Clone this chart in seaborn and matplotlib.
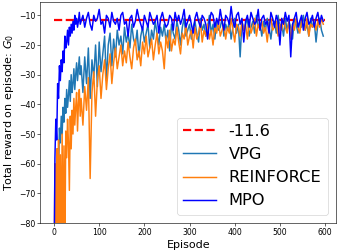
import numpy as np
import matplotlib
matplotlib.use("Agg")
import matplotlib.pyplot as plt
import seaborn as sns

# Episodios: cada 2 al principio, luego cada 4
episodes = np.concatenate([np.arange(0, 60, 2), np.arange(60, 600, 4)])

# Recompensa total por episodio
mpo = [
    # 0-58
    -100, -58, -45, -52, -33, -38, -27, -32, -25, -29,
    -22, -26, -17, -21, -19, -15, -20, -14, -17, -13,
    -16, -12, -15, -10, -13, -11, -14, -12, -9, -13,
    # 60-596
    -12, -10, -14, -11, -9, -13, -15, -10, -12, -11,
    -8, -13, -12, -16, -10, -11, -14, -9, -12, -13,
    -11, -15, -10, -9, -13, -12, -17, -11, -10, -14,
    -12, -8, -11, -13, -15, -10, -12, -14, -9, -11,
    -13, -12, -10, -16, -11, -9, -12, -14, -13, -10,
    -11, -15, -9, -12, -10, -13, -11, -8, -14, -12,
    -10, -13, -16, -11, -9, -12, -14, -10, -11, -13,
    -18, -12, -9, -10, -14, -11, -13, -8, -12, -15,
    -10, -11, -13, -7, -12, -14, -10, -9, -13, -11,
    -19, -12, -10, -14, -9, -11, -13, -12, -8, -15,
    -11, -10, -13, -12, -16, -9, -11, -14, -10, -12,
    -20, -11, -13, -9, -12, -10, -24, -13, -11, -9,
    -14, -12, -10, -15, -11, -9, -13, -12, -10, -14,
    -11, -9, -13, -10, -12,
]
vpg = [
    # 0-58
    -100, -100, -90, -68, -55, -62, -48, -53, -44, -50,
    -41, -46, -38, -43, -35, -41, -37, -32, -39, -30,
    -36, -33, -28, -35, -30, -26, -32, -28, -24, -30,
    # 60-596
    -27, -36, -24, -33, -21, -38, -25, -31, -20, -34,
    -19, -29, -23, -17, -32, -20, -16, -27, -18, -24,
    -15, -20, -17, -23, -14, -19, -16, -21, -13, -18,
    -20, -15, -24, -17, -14, -19, -16, -13, -21, -15,
    -18, -12, -16, -20, -14, -17, -13, -19, -15, -22,
    -13, -16, -18, -12, -15, -20, -14, -11, -17, -15,
    -13, -18, -14, -12, -16, -19, -11, -15, -13, -17,
    -14, -10, -16, -13, -18, -12, -15, -14, -11, -17,
    -13, -15, -12, -18, -14, -11, -16, -13, -24, -12,
    -15, -13, -11, -17, -14, -12, -16, -10, -14, -13,
    -17, -12, -15, -11, -14, -18, -13, -12, -16, -10,
    -14, -13, -17, -11, -15, -12, -14, -18, -11, -13,
    -16, -12, -14, -10, -15, -13, -17, -11, -14, -12,
    -19, -13, -11, -15, -17,
]
reinforce = [
    # 0-58
    -100, -60, -100, -55, -98, -52, -100, -57, -95, -50,
    -100, -54, -92, -49, -58, -45, -53, -69, -44, -55,
    -42, -50, -38, -47, -41, -36, -49, -40, -35, -44,
    # 60-596
    -38, -47, -34, -42, -31, -65, -36, -29, -44, -32,
    -27, -38, -30, -25, -35, -28, -23, -33, -26, -21,
    -28, -24, -20, -27, -22, -26, -19, -24, -28, -21,
    -18, -25, -22, -27, -19, -23, -17, -24, -21, -18,
    -25, -20, -16, -23, -19, -22, -28, -17, -21, -15,
    -22, -18, -20, -14, -19, -23, -16, -18, -13, -20,
    -17, -15, -21, -14, -18, -16, -12, -19, -15, -17,
    -13, -18, -15, -20, -14, -16, -12, -17, -15, -13,
    -18, -14, -16, -11, -15, -19, -13, -14, -17, -12,
    -15, -13, -18, -12, -16, -14, -11, -17, -13, -15,
    -12, -16, -14, -19, -13, -11, -15, -14, -12, -17,
    -13, -15, -11, -14, -16, -12, -18, -13, -15, -11,
    -14, -16, -12, -13, -15, -11, -17, -13, -14, -12,
    -15, -12, -14, -11, -13,
]
objetivo = -11.6

fig, ax = plt.subplots(figsize=(6.4, 4.744), dpi=53.125)
fig.subplots_adjust(left=0.119, right=0.988, bottom=0.115, top=0.992)

sns.lineplot(x=[0, 600], y=[objetivo, objetivo], ax=ax, color="red",
             linestyle="--", linewidth=3, label="-11.6")
sns.lineplot(x=episodes, y=vpg, ax=ax, color="tab:blue", linewidth=2,
             label="VPG", errorbar=None)
sns.lineplot(x=episodes, y=reinforce, ax=ax, color="tab:orange", linewidth=2,
             label="REINFORCE", errorbar=None)
sns.lineplot(x=episodes, y=mpo, ax=ax, color="blue", linewidth=2,
             label="MPO", errorbar=None)

ax.set_xlim(-30, 624)
ax.set_ylim(-80, -5.5)
ax.set_xlabel("Episode", fontsize=15)
ax.set_ylabel("Total reward on episode: $G_0$", fontsize=15)
ax.tick_params(labelsize=10.5)
ax.legend(loc="lower right", fontsize=22)

fig.savefig("out.png", dpi=53.125)
